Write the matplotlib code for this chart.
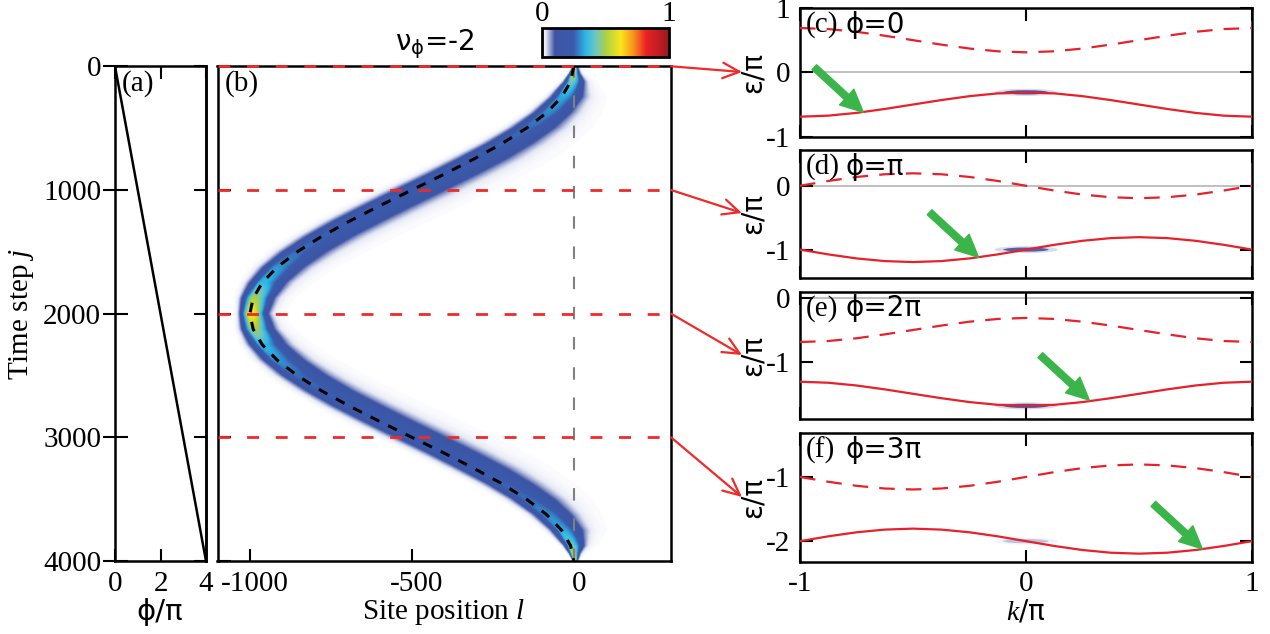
import numpy as np
import matplotlib
matplotlib.use('Agg')
import matplotlib.pyplot as plt
from matplotlib.colors import LinearSegmentedColormap, Normalize
from matplotlib.patches import ConnectionPatch, Ellipse
from matplotlib.transforms import ScaledTranslation
import matplotlib.cm as cm

plt.rcParams['font.family'] = ['Liberation Serif', 'DejaVu Sans']
plt.rcParams['mathtext.fontset'] = 'custom'
plt.rcParams['mathtext.it'] = 'Liberation Serif:italic'
plt.rcParams['mathtext.rm'] = 'Liberation Serif'
plt.rcParams['axes.linewidth'] = 1.8
plt.rcParams['axes.unicode_minus'] = False

# ---------------- data ----------------
# panel (a): flux phi/pi versus time step
phi_steps = [0, 4000]
phi_over_pi = [0, 4]

# panel (b): centre of the wave packet (dashed black line)
track_j = [0, 125, 250, 375, 500, 625, 750, 875, 1000, 1125, 1250, 1375, 1500, 1625,
           1750, 1875, 2000, 2125, 2250, 2375, 2500, 2625, 2750, 2875, 3000, 3125,
           3250, 3375, 3500, 3625, 3750, 3875, 4000]
track_l = [0, -10, -38, -84, -146, -222, -309, -402, -500, -597, -691, -778, -854, -916,
           -962, -990, -1000, -990, -962, -916, -854, -778, -691, -597, -500, -402,
           -309, -222, -146, -84, -38, -10, 0]

# packet envelope: width (sites) and peak density along time
env_j = [0, 60, 125, 250, 500, 750, 1000, 1250, 1500, 1750, 1875, 2000, 2125, 2250,
         2500, 2750, 3000, 3250, 3500, 3750, 3875, 3940, 4000]
env_width = [6, 14, 28, 48, 70, 85, 90, 86, 74, 55, 44, 36, 44, 55, 74, 86, 90, 85,
             70, 48, 28, 14, 6]
env_peak = [0.62, 0.5, 0.38, 0.28, 0.22, 0.2, 0.19, 0.2, 0.22, 0.3, 0.45, 0.6, 0.45,
            0.3, 0.22, 0.2, 0.19, 0.2, 0.22, 0.28, 0.38, 0.5, 0.62]

cut_j = [0, 1000, 2000, 3000]

# panels (c)-(f): quasienergy bands eps/pi versus k/pi
k_vals = [-1, -0.875, -0.75, -0.625, -0.5, -0.375, -0.25, -0.125, 0, 0.125, 0.25,
          0.375, 0.5, 0.625, 0.75, 0.875, 1]
c_lower = [-0.689, -0.673, -0.630, -0.569, -0.500, -0.431, -0.370, -0.327, -0.311,
           -0.327, -0.370, -0.431, -0.500, -0.569, -0.630, -0.673, -0.689]
c_upper = [0.689, 0.673, 0.630, 0.569, 0.500, 0.431, 0.370, 0.327, 0.311,
           0.327, 0.370, 0.431, 0.500, 0.569, 0.630, 0.673, 0.689]
d_lower = [-1.0, -1.075, -1.138, -1.180, -1.195, -1.180, -1.138, -1.075, -1.0,
           -0.925, -0.862, -0.820, -0.805, -0.820, -0.862, -0.925, -1.0]
d_upper = [0.0, 0.075, 0.138, 0.180, 0.195, 0.180, 0.138, 0.075, 0.0,
           -0.075, -0.138, -0.180, -0.195, -0.180, -0.138, -0.075, 0.0]
e_lower = [-1.311, -1.327, -1.370, -1.431, -1.500, -1.569, -1.630, -1.673, -1.689,
           -1.673, -1.630, -1.569, -1.500, -1.431, -1.370, -1.327, -1.311]
e_upper = [-0.689, -0.673, -0.630, -0.569, -0.500, -0.431, -0.370, -0.327, -0.311,
           -0.327, -0.370, -0.431, -0.500, -0.569, -0.630, -0.673, -0.689]
f_lower = [-2.0, -1.925, -1.862, -1.820, -1.805, -1.820, -1.862, -1.925, -2.0,
           -2.075, -2.138, -2.180, -2.195, -2.180, -2.138, -2.075, -2.0]
f_upper = [-1.0, -1.075, -1.138, -1.180, -1.195, -1.180, -1.138, -1.075, -1.0,
           -0.925, -0.862, -0.820, -0.805, -0.820, -0.862, -0.925, -1.0]
lower_bands = [c_lower, d_lower, e_lower, f_lower]
upper_bands = [c_upper, d_upper, e_upper, f_upper]
panel_tags = ['(c)', '(d)', '(e)', '(f)']
phase_text = ['ϕ=0', 'ϕ=π', 'ϕ=2π', 'ϕ=3π']
arrow_k = [-0.72, -0.21, 0.28, 0.78]
arrow_eps = [-0.62, -1.12, -1.60, -2.12]
blob_strength = [1.0, 0.9, 1.0, 0.3]
ylims = [(-1, 1), (-1.44, 0.56), (-1.9, 0.1), (-2.32, -0.32)]
yticks = [[-1, 0, 1], [-1, 0], [-1, 0], [-2, -1]]

# ---------------- figure ----------------
W, H = 1270, 634
fig = plt.figure(figsize=(W / 100, H / 100), dpi=100)


def px(l, t, r, b):
    return [l / W, 1 - b / H, (r - l) / W, (b - t) / H]


cmap = LinearSegmentedColormap.from_list('wp', [
    (0.0, '#ffffff'), (0.03, '#e6e8f5'), (0.10, '#3d55a5'), (0.25, '#3b5aab'),
    (0.34, '#2bb5e8'), (0.42, '#6ec6c4'), (0.50, '#a8cf45'), (0.62, '#f9e51c'),
    (0.72, '#f7941d'), (0.82, '#ec2027'), (1.0, '#981b1e')])

RED = '#ee2a2a'
TICK = dict(length=9, width=1.5, labelsize=21)

# ---- panel (a)
axa = fig.add_axes(px(115, 66.3, 206, 561))
axa.plot(phi_over_pi, phi_steps, color='k', lw=1.8)
axa.set_xlim(0, 4)
axa.set_ylim(4000, 0)
axa.set_xticks([0, 2, 4])
axa.set_yticks([0, 1000, 2000, 3000, 4000])
axa.tick_params(axis='x', top=True, direction='in', pad=7, **TICK)
axa.tick_params(axis='y', left=True, right=False, direction='inout', pad=1,
                length=18, width=1.5, labelsize=21)
sec = axa.secondary_yaxis('right')
sec.set_yticks([0, 1000, 2000, 3000, 4000])
sec.set_yticklabels([])
sec.tick_params(direction='in', length=9, width=1.5)
sec.spines['right'].set_linewidth(1.8)
axa.text(0.07, 0.965, '(a)', transform=axa.transAxes, fontsize=21, va='center', ha='left')

# ---- panel (b)
axb = fig.add_axes(px(217.5, 66.3, 671, 561))
L = np.arange(-1100, 301, 2.0)
J = np.arange(0, 4001, 5.0)
c = np.interp(J, track_j, track_l)
s = np.interp(J, env_j, env_width)
p = np.interp(J, env_j, env_peak)
x = L[None, :] - c[:, None]
S = s[:, None]
wl = 0.7 * S
wr = 1.1 * S
prof = np.where(x < 0, np.exp(-(np.abs(x) / wl) ** 2.2), np.exp(-(np.abs(x) / wr) ** 2.2))
tail = 0.05 * np.exp(-(x / (1.8 * S)) ** 2) * (x > -0.3 * S)
dens = p[:, None] * prof + tail
axb.imshow(dens, extent=[-1101, 301, 4002.5, -2.5], cmap=cmap, vmin=0, vmax=1,
           aspect='auto', interpolation='bilinear', zorder=0)
axb.axvline(0, color='#808080', lw=1.5, dashes=(6, 8.5), zorder=2)
axb.plot(track_l, track_j, color='k', lw=2.2, dashes=(3.2, 3.2), zorder=3)
for j in cut_j:
    axb.axhline(j, color=RED, lw=2, dashes=(4.3, 6), zorder=5, clip_on=False)
axb.set_xlim(-1100, 300)
axb.set_ylim(4000, 0)
axb.set_xticks([-1000, -500, 0])
axb.set_yticks([0, 1000, 2000, 3000, 4000])
axb.set_yticklabels([])
axb.tick_params(top=False, left=True, right=False, direction='in', pad=7, **TICK)
shift = ScaledTranslation(5 / 100, 0, fig.dpi_scale_trans)
for lab in axb.get_xticklabels():
    lab.set_transform(lab.get_transform() + shift)
axb.text(0.016, 0.965, '(b)', transform=axb.transAxes, fontsize=21, va='center', ha='left')

# ---- colour bar
cax = fig.add_axes(px(542, 28, 669, 57))
sm = cm.ScalarMappable(norm=Normalize(0, 1), cmap=cmap)
cb = fig.colorbar(sm, cax=cax, orientation='horizontal', ticks=[])
cb.outline.set_linewidth(2)
fig.text(542 / W, 1 - 14 / H, '0', fontsize=21, ha='center', va='center')
fig.text(669 / W, 1 - 14 / H, '1', fontsize=21, ha='center', va='center')
fig.text(435 / W, 1 - 44 / H, r'$\mathrm{\nu}_{\mathrm{\phi}}$=-2', fontsize=20,
         fontfamily='DejaVu Sans', math_fontfamily='dejavusans', ha='center', va='center')

# ---- right panels
right_rows = [(8, 136.7), (150, 277.7), (291.7, 419.3), (433.3, 561.7)]
arrow_ends = [(742, 72), (742, 213), (742, 355), (742, 497)]
axr = []
for i, (t, b) in enumerate(right_rows):
    ax = fig.add_axes(px(800, t, 1252, b))
    axr.append(ax)
    lo = lower_bands[i]
    up = upper_bands[i]
    ax.axhline(0, color='#b5b5b5', lw=1.2, zorder=1)
    st = blob_strength[i]
    ax.add_patch(Ellipse((k_vals[8], lo[8]), 0.28, 0.11, color='#3d55a5', alpha=0.22 * st,
                         lw=0, zorder=2))
    ax.add_patch(Ellipse((k_vals[8], lo[8]), 0.2, 0.065, color='#3d55a5', alpha=st,
                         lw=0, zorder=2))
    ax.plot(k_vals, lo, color='#e8202a', lw=1.6, zorder=3)
    ax.plot(k_vals, up, color='#e8202a', lw=1.6, dashes=(7, 5), zorder=3)
    ax.set_xlim(-1, 1)
    ax.set_ylim(*ylims[i])
    ax.set_xticks([-1, 0, 1])
    ax.set_yticks(yticks[i])
    ax.tick_params(top=True, right=True, direction='in', pad=7, **TICK)
    if i < 3:
        ax.set_xticklabels([])
    ax.text(0.012, 0.87, panel_tags[i], transform=ax.transAxes, fontsize=21,
            va='center', ha='left')
    ax.text(0.1, 0.87, phase_text[i], transform=ax.transAxes, fontsize=20,
            fontfamily='DejaVu Sans', va='center', ha='left')
    ax.annotate('', xy=(arrow_k[i], arrow_eps[i]), xytext=(-49, 45),
                textcoords='offset pixels',
                arrowprops=dict(arrowstyle='simple,head_length=0.9,head_width=0.85,tail_width=0.27',
                                color='#3bb54a', mutation_scale=18, shrinkA=0, shrinkB=0),
                zorder=6)
    yc = (t + b) / 2
    fig.text(753 / W, 1 - yc / H, 'ε/π', rotation=90, fontsize=20, fontfamily='DejaVu Sans',
             ha='center', va='center')
    # red arrow from panel (b)
    xe, ye = arrow_ends[i]
    con = ConnectionPatch(xyA=(300, cut_j[i]), coordsA=axb.transData,
                          xyB=(xe / W, 1 - ye / H), coordsB=fig.transFigure,
                          arrowstyle='->,head_length=0.6,head_width=0.28', color=RED,
                          lw=1.6, mutation_scale=20, zorder=10)
    fig.add_artist(con)

# axis labels
fig.text(22 / W, 1 - 314 / H, 'Time step $j$', rotation=90, fontsize=21, ha='center',
         va='center')
fig.text(160 / W, 1 - 612 / H, 'ϕ/π', fontsize=21, fontfamily='DejaVu Sans', ha='center',
         va='center')
fig.text(444 / W, 1 - 612 / H, 'Site position $l$', fontsize=21, ha='center', va='center')
fig.text(1026 / W, 1 - 612 / H, r'$k$/π', fontsize=20, fontfamily='DejaVu Sans',
         ha='center', va='center')

fig.savefig('out.png', dpi=100)
